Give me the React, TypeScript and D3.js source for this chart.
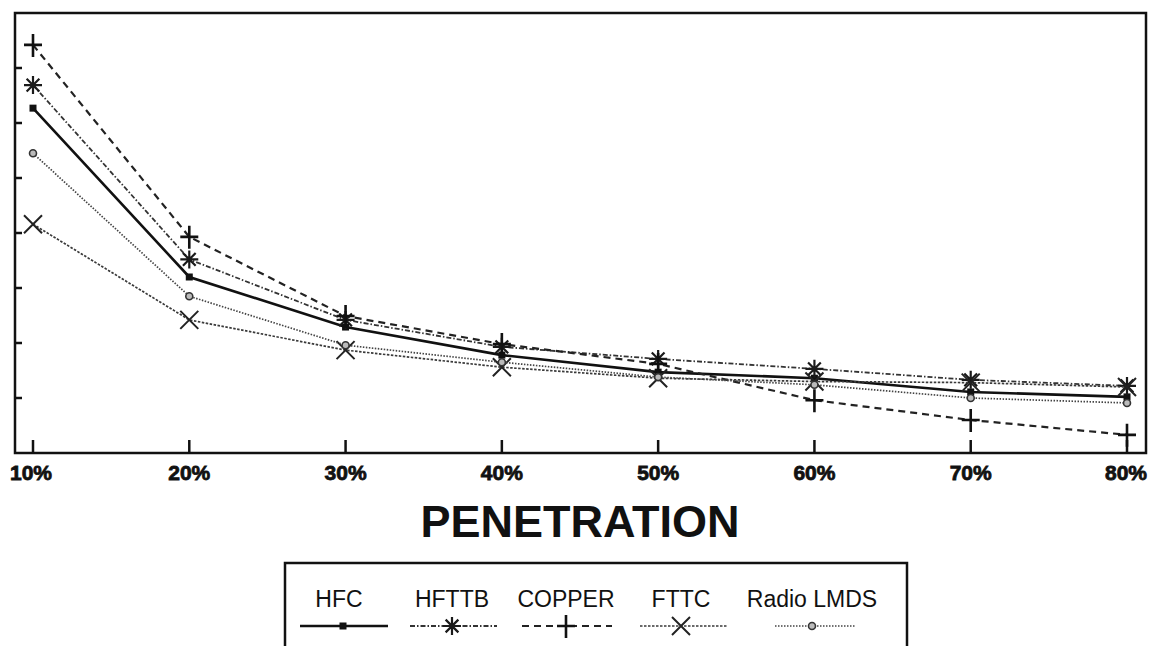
import React from 'react';
import * as d3 from 'd3';

// penetration levels (%)
const penetration = [10, 20, 30, 40, 50, 60, 70, 80];
const xTickLabels = ['10%', '20%', '30%', '40%', '50%', '60%', '70%', '80%'];
const yTicks = [1, 2, 3, 4, 5, 6, 7];

// series values (unlabelled y axis, 0..8)
const hfc = [6.27, 3.2, 2.29, 1.78, 1.47, 1.36, 1.11, 1.02];
const hfttb = [6.69, 3.52, 2.42, 1.93, 1.71, 1.53, 1.33, 1.22];
const copper = [7.42, 3.93, 2.49, 1.98, 1.62, 0.96, 0.6, 0.33];
const fttc = [4.16, 2.42, 1.87, 1.56, 1.36, 1.3, 1.28, 1.2];
const radio = [5.45, 2.85, 1.96, 1.65, 1.38, 1.24, 1.0, 0.91];

type Marker = 'square' | 'star' | 'plus' | 'x' | 'circle';

const series: { name: string; values: number[]; marker: Marker; dash: string; width: number; color: string }[] = [
  { name: 'HFC', values: hfc, marker: 'square', dash: '', width: 2.6, color: '#111' },
  { name: 'HFTTB', values: hfttb, marker: 'star', dash: '5 2 1.5 2', width: 1.8, color: '#333' },
  { name: 'COPPER', values: copper, marker: 'plus', dash: '7 5', width: 2.2, color: '#222' },
  { name: 'FTTC', values: fttc, marker: 'x', dash: '2.5 1.5', width: 1.7, color: '#3a3a3a' },
  { name: 'Radio LMDS', values: radio, marker: 'circle', dash: '1.5 1.5', width: 1.7, color: '#444' },
];

const W = 1150;
const H = 646;
const frame = { left: 15, top: 13, right: 1146, bottom: 453 };

const x = d3.scaleLinear().domain([10, 80]).range([33, 1127]);
const y = d3.scaleLinear().domain([0, 8]).range([frame.bottom, frame.top]);

const MarkerShape = ({ kind, cx, cy }: { kind: Marker; cx: number; cy: number }) => {
  const c = '#111';
  if (kind === 'square') return <rect x={cx - 3.5} y={cy - 3.5} width={7} height={7} fill={c} />;
  if (kind === 'circle')
    return <circle cx={cx} cy={cy} r={3.5} fill="#bbb" stroke="#333" strokeWidth={1.6} />;
  if (kind === 'plus')
    return (
      <path d={`M${cx - 9},${cy}H${cx + 9}M${cx},${cy - 11}V${cy + 12}`} stroke={c} strokeWidth={2.6} />
    );
  if (kind === 'x') {
    const r = 9;
    return (
      <path
        d={`M${cx - r},${cy - r}L${cx + r},${cy + r}M${cx - r},${cy + r}L${cx + r},${cy - r}`}
        stroke="#222"
        strokeWidth={2}
      />
    );
  }
  const r = 9;
  const d = d3
    .range(4)
    .map((i) => {
      const a = (i * Math.PI) / 4;
      return `M${cx - r * Math.cos(a)},${cy - r * Math.sin(a)}L${cx + r * Math.cos(a)},${cy + r * Math.sin(a)}`;
    })
    .join('');
  return <path d={d} stroke="#1a1a1a" strokeWidth={2.2} />;
};

const App = () => {
  const line = d3
    .line<number>()
    .x((_, i) => x(penetration[i]))
    .y((d) => y(d));

  const legendX = [339, 452, 566, 681, 812];
  const legendLine = [
    [300, 388],
    [410, 497],
    [522, 612],
    [640, 728],
    [775, 855],
  ];

  return (
    <svg
      width={W}
      height={H}
      style={{ position: 'absolute', left: 0, top: 0, background: '#fff' }}
      fontFamily="'Liberation Sans', Arial, sans-serif"
    >
      {/* plot frame */}
      <rect
        x={frame.left}
        y={frame.top}
        width={frame.right - frame.left}
        height={frame.bottom - frame.top}
        fill="none"
        stroke="#111"
        strokeWidth={2.5}
      />
      {yTicks.map((t) => (
        <line key={t} x1={frame.left} x2={frame.left + 7} y1={y(t)} y2={y(t)} stroke="#111" strokeWidth={2.5} />
      ))}
      {penetration.map((p, i) => (
        <g key={p}>
          <line x1={x(p)} x2={x(p)} y1={frame.bottom} y2={frame.bottom - 13} stroke="#111" strokeWidth={2.5} />
          <text
            x={i === 0 ? frame.left - 5 : i === penetration.length - 1 ? frame.right + 1 : x(p)}
            y={480}
            textAnchor={i === 0 ? 'start' : i === penetration.length - 1 ? 'end' : 'middle'}
            fontSize={21}
            fontWeight="bold"
            fill="#111"
            stroke="#111"
            strokeWidth={0.8}
          >
            {xTickLabels[i]}
          </text>
        </g>
      ))}
      <text x={580} y={537} textAnchor="middle" fontSize={45} fontWeight="bold" fill="#111">
        PENETRATION
      </text>

      {/* series */}
      {series.map((s) => (
        <g key={s.name}>
          <path
            d={line(s.values) || ''}
            fill="none"
            stroke={s.color}
            strokeWidth={s.width}
            strokeDasharray={s.dash}
          />
          {s.values.map((v, i) => (
            <MarkerShape key={i} kind={s.marker} cx={x(penetration[i])} cy={y(v)} />
          ))}
        </g>
      ))}

      {/* legend */}
      <rect x={285} y={563} width={622} height={110} fill="none" stroke="#111" strokeWidth={2.5} />
      {series.map((s, i) => (
        <g key={s.name}>
          <text x={legendX[i]} y={607} textAnchor="middle" fontSize={23} fill="#111">
            {s.name}
          </text>
          <line
            x1={legendLine[i][0]}
            x2={legendLine[i][1]}
            y1={626}
            y2={626}
            stroke={s.color}
            strokeWidth={s.width}
            strokeDasharray={s.dash}
          />
          <MarkerShape kind={s.marker} cx={legendX[i] + (i === 0 ? 4 : 0)} cy={626} />
        </g>
      ))}
    </svg>
  );
};

export default App;
